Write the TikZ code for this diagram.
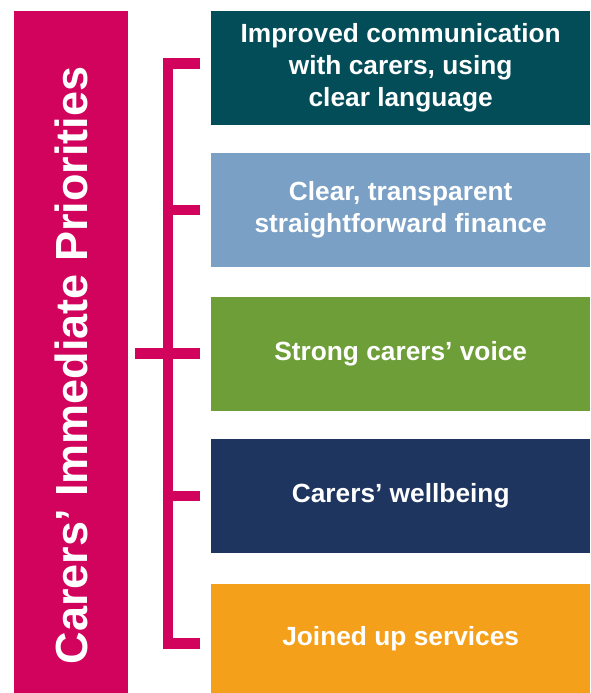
\documentclass[tikz,border=0pt]{standalone}
\usepackage{fontspec}
\setmainfont{Liberation Sans}
\definecolor{magentabar}{HTML}{D2035C}
\definecolor{cteal}{HTML}{024D58}
\definecolor{cblue}{HTML}{7BA0C5}
\definecolor{cgreen}{HTML}{6E9E38}
\definecolor{cnavy}{HTML}{1E3560}
\definecolor{corange}{HTML}{F5A01A}
\begin{document}
\begin{tikzpicture}[x=1pt,y=1pt,
  prio/.style={fill=#1, draw=none, minimum width=379pt, minimum height=114pt, inner sep=0pt,
    text=white, align=center, font=\bfseries\fontsize{26.3}{32}\selectfont},
  brack/.style={draw=magentabar, line width=10.5pt, line join=miter, line cap=butt},
  tick/.style={brack, shorten >=11pt}]
\useasboundingbox (0,0) rectangle (590,693);
\fill[magentabar] (14,0) rectangle (128,682);
\node[rotate=90, anchor=base, text=white, font=\bfseries\fontsize{45}{54}\selectfont] (title) at (87,327.5) {Carers’ Immediate Priorities};
\node[prio=cteal, anchor=north west] (b1) at (211,682) {Improved communication\\with carers, using\\clear language};
\node[prio=cblue, anchor=north west] (b2) at (211,540) {Clear, transparent\\straightforward finance};
\node[prio=cgreen, anchor=north west] (b3) at (211,396) {\raisebox{-2pt}{Strong carers’ voice}};
\node[prio=cnavy, anchor=north west] (b4) at (211,254) {\raisebox{-1pt}{Carers’ wellbeing}};
\node[prio=corange, anchor=north west, minimum height=109pt] (b5) at (211,109) {\raisebox{2pt}{Joined up services}};
\coordinate (s1) at (168,629.5);
\coordinate (s2) at (168,483);
\coordinate (s3) at (135,339.5);
\coordinate (s4) at (168,197);
\coordinate (s5) at (168,49.5);
\draw[brack] (200,629.5) -- (s1) -- (s5) -- (200,49.5);
\draw[tick] (s2) -- (s2 -| b2.west);
\draw[tick] (s3) -- (s3 -| b3.west);
\draw[tick] (s4) -- (s4 -| b4.west);
\end{tikzpicture}
\end{document}
